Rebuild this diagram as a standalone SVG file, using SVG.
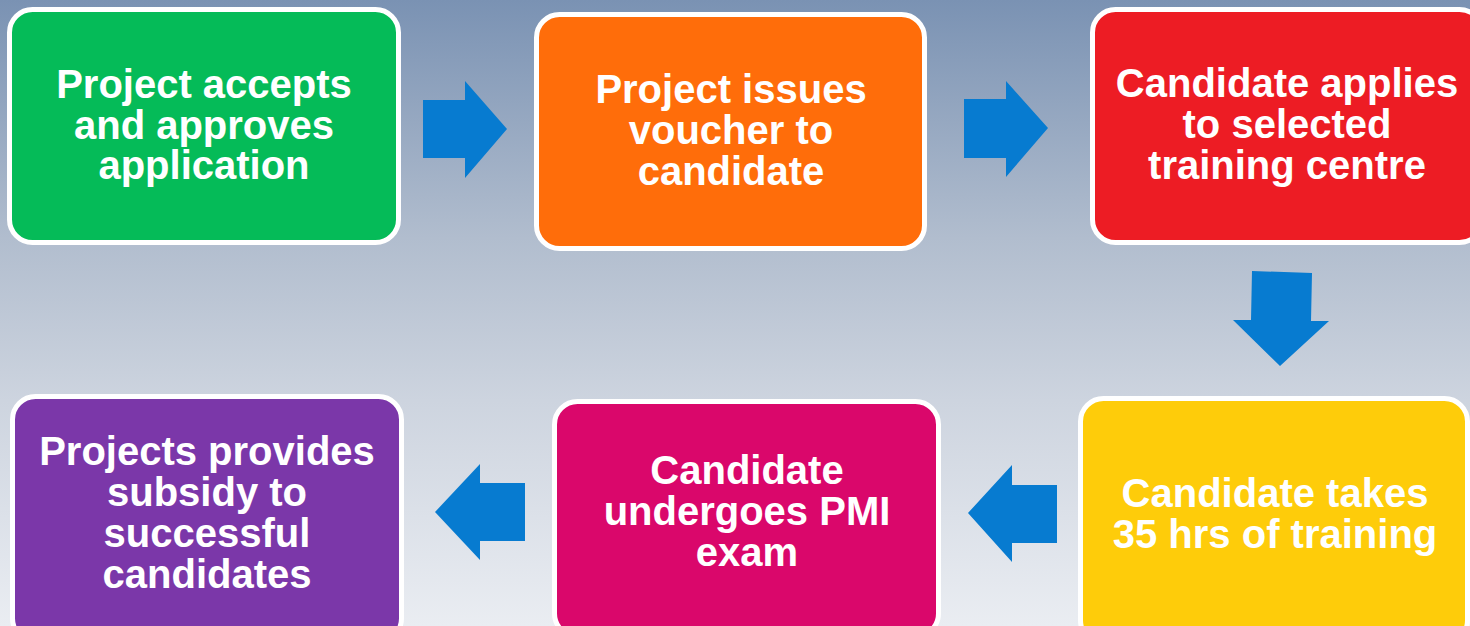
<svg xmlns="http://www.w3.org/2000/svg" width="1470" height="626" viewBox="0 0 1470 626">
  <defs>
    <linearGradient id="bg" x1="0" y1="0" x2="0" y2="626" gradientUnits="userSpaceOnUse">
      <stop offset="0" stop-color="#7a92b3"/>
      <stop offset="0.38" stop-color="#b1bdce"/>
      <stop offset="0.64" stop-color="#cdd4df"/>
      <stop offset="1" stop-color="#eaedf2"/>
    </linearGradient>
  </defs>
  <style>
    .box { stroke: #ffffff; stroke-width: 5; }
    .lbl { font-family: "Liberation Sans", Arial, sans-serif; font-weight: bold; font-size: 40px; fill: #ffffff; text-anchor: middle; }
    .arrow { fill: #077bd0; }
  </style>
  <rect x="0" y="0" width="1470" height="626" fill="url(#bg)"/>

  <g id="node-accept">
    <rect class="box" x="9.5" y="9.5" width="389" height="233" rx="23" fill="#05bb58"/>
    <text class="lbl" x="204" y="98">Project accepts</text>
    <text class="lbl" x="204" y="138.5">and approves</text>
    <text class="lbl" x="204" y="179">application</text>
  </g>

  <g id="node-voucher">
    <rect class="box" x="536.5" y="14.5" width="388" height="234" rx="23" fill="#ff6d0a"/>
    <text class="lbl" x="731" y="103">Project issues</text>
    <text class="lbl" x="731" y="144">voucher to</text>
    <text class="lbl" x="731" y="185">candidate</text>
  </g>

  <g id="node-apply">
    <rect class="box" x="1092.5" y="9.5" width="390" height="233" rx="23" fill="#ed1c24"/>
    <text class="lbl" x="1287" y="97">Candidate applies</text>
    <text class="lbl" x="1287" y="138">to selected</text>
    <text class="lbl" x="1287" y="179">training centre</text>
  </g>

  <g id="node-training">
    <rect class="box" x="1080.5" y="398.5" width="387" height="245" rx="23" fill="#fecc0a"/>
    <text class="lbl" x="1275" y="507">Candidate takes</text>
    <text class="lbl" x="1275" y="548">35 hrs of training</text>
  </g>

  <g id="node-exam">
    <rect class="box" x="554.5" y="401.5" width="384" height="235" rx="23" fill="#da076b"/>
    <text class="lbl" x="747" y="484">Candidate</text>
    <text class="lbl" x="747" y="525">undergoes PMI</text>
    <text class="lbl" x="747" y="566">exam</text>
  </g>

  <g id="node-subsidy">
    <rect class="box" x="12.5" y="396.5" width="389" height="245" rx="23" fill="#7b37a9"/>
    <text class="lbl" x="207" y="465">Projects provides</text>
    <text class="lbl" x="207" y="506">subsidy to</text>
    <text class="lbl" x="207" y="547">successful</text>
    <text class="lbl" x="207" y="588">candidates</text>
  </g>

  <g id="connectors">
    <polygon class="arrow" points="423,100 465,100 465,81 507,129 465,178 465,158 423,158"/>
    <polygon class="arrow" points="964,99 1006,99 1006,81 1048,128 1006,177 1006,158 964,158"/>
    <polygon class="arrow" points="1252,271 1312,273 1311,321 1329,321 1280,366 1233,320 1251,320"/>
    <polygon class="arrow" points="1057,485 1012,485 1012,465 968,513 1012,562 1012,543 1057,543"/>
    <polygon class="arrow" points="525,483 480,483 480,464 435,512 480,560 480,541 525,541"/>
  </g>
</svg>
